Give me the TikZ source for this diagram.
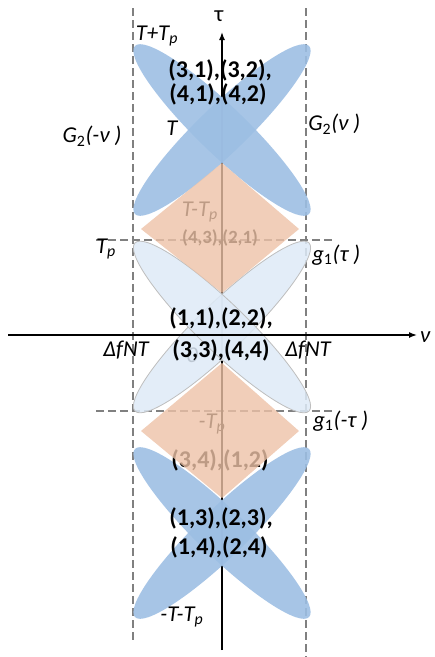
\documentclass[tikz,border=0pt]{standalone}
\usepackage{fontspec}
\setmainfont{Carlito}
\usetikzlibrary{arrows.meta}
\definecolor{lobeblue}{RGB}{156,190,227}
\definecolor{lobepale}{RGB}{222,234,247}
\definecolor{rimgrey}{RGB}{190,190,190}
\definecolor{rhombtan}{RGB}{237,194,167}
\definecolor{guidegrey}{RGB}{128,128,128}
\newcommand{\Tp}{\textit{T}\textsubscript{\textit{p}}}
\tikzset{lobe/.style={fill=lobeblue,fill opacity=.89},palelobe/.style={fill=lobepale,fill opacity=.85,draw=rimgrey,line width=.6pt},rhomb/.style={fill=rhombtan,fill opacity=.8},guide/.style={guidegrey,dash pattern=on 6pt off 3pt,line width=.9pt},axis/.style={-{Latex[length=6pt,width=4.5pt]},line width=1.1pt},lbl/.style={font=\fontsize{17}{20}\selectfont\itshape,inner sep=0pt},pairs/.style={font=\fontsize{18}{21}\selectfont\bfseries,inner sep=0pt}}

\begin{document}
\begin{tikzpicture}[x=0.75pt,y=-0.75pt]
\useasboundingbox (0,0) rectangle (435,657);
% guides
\coordinate (gl1) at (133,8); \coordinate (gl2) at (133,640);
\coordinate (gr1) at (306,8); \coordinate (gr2) at (306,657);
\coordinate (hu1) at (96,240); \coordinate (hu2) at (333,240);
\coordinate (hd1) at (96,411); \coordinate (hd2) at (333,411);
\draw[guide] (gl1)--(gl2); \draw[guide] (gr1)--(gr2);
\draw[guide] (hu1)--(hu2); \draw[guide] (hd1)--(hd2);
% axes and lobe centres
\coordinate (tauB) at (222,650); \coordinate (tauT) at (222,32);
\coordinate (nuL) at (8,335); \coordinate (nuR) at (417,335);
\coordinate (topX) at (222,130); \coordinate (midX) at (222,327); \coordinate (lowX) at (222,533);
\draw[axis] (tauB)--(tauT);
\node[lbl] (zero) at (192,355) {0};
\foreach \a in {44,-44}{
\fill[lobe,rotate around={\a:(topX)}] (topX) ellipse [x radius=121,y radius=24];
\fill[lobe,rotate around={\a:(lowX)}] (lowX) ellipse [x radius=121,y radius=24];
\filldraw[palelobe,rotate around={\a:(midX)}] (midX) ellipse [x radius=121,y radius=24];}
\draw[axis] (nuL)--(nuR);
% labels under the rhombi
\node[lbl] (ttp) at (200,212) {\textit{T}-\Tp};
\node[pairs,font=\fontsize{14}{16}\selectfont\bfseries] (p43) at (220,238) {(4,3),(2,1)};
\node[lbl] (mtp) at (212,424) {-\Tp};
\node[pairs] (p34) at (220,460) {(3,4),(1,2)};
\fill[rhomb] (222,163)--(299,229)--(222,293)--(141,229)--cycle;
\fill[rhomb] (222,363)--(299,431)--(222,498)--(141,431)--cycle;
% labels
\node[lbl,font=\fontsize{17}{20}\selectfont] (tau) at (219,16) {τ};
\node[lbl] (nu) at (425,337) {ν};
\node[lbl] (tptp) at (157,36) {\textit{T}+\Tp};
\node[lbl] (tt) at (172,128) {T};
\node[lbl] (gm) at (92,136) {G\textsubscript{\upshape 2}(-ν )};
\node[lbl,anchor=west] (gp) at (308,124) {G\textsubscript{\upshape 2}(ν )};
\node[lbl] (tpl) at (106,249) {\Tp};
\node[lbl,anchor=west] (gt) at (312,255) {g\textsubscript{\upshape 1}(τ )};
\node[lbl,anchor=west] (gmt) at (313,421) {g\textsubscript{\upshape 1}(-τ )};
\node[lbl] (dfl) at (126,350) {ΔfNT};
\node[lbl] (dfr) at (308,350) {ΔfNT};
\node[lbl] (mttp) at (182,617) {-\textit{T}-\Tp};
\node[pairs] (p31) at (220,70) {(3,1),(3,2),};
\node[pairs] (p41) at (218,94) {(4,1),(4,2)};
\node[pairs] (p11) at (221,318) {(1,1),(2,2),};
\node[pairs] (p33) at (221,350) {(3,3),(4,4)};
\node[pairs] (p13) at (221,518) {(1,3),(2,3),};
\node[pairs] (p14) at (219,547) {(1,4),(2,4)};
\end{tikzpicture}
\end{document}
